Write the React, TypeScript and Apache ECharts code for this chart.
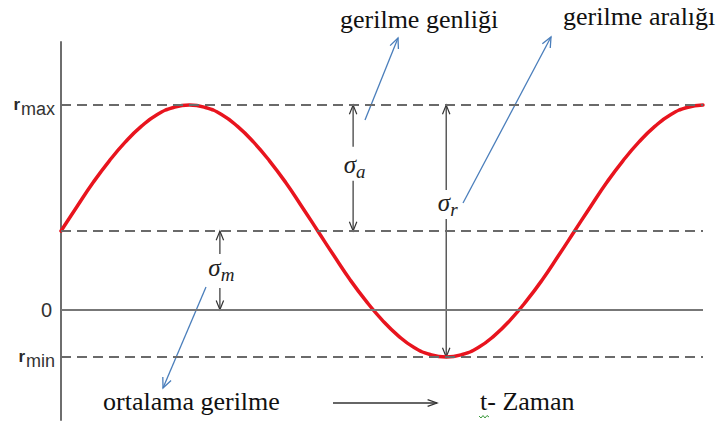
import React, { useEffect, useRef } from "react";
import * as echarts from "echarts";

// Time in sixteenths of a load cycle, and the stress
const timeSteps = [
  0, 0.5, 1, 1.5, 2, 2.5, 3, 3.5, 4, 4.5, 5, 5.5, 6, 6.5, 7, 7.5, 8, 8.5, 9, 9.5, 10,
  10.5, 11, 11.5, 12, 12.5, 13, 13.5, 14, 14.5, 15, 15.5, 16, 16.5, 17, 17.5, 18, 18.5, 19, 19.5, 20,
];
const stress = [
  1.25, 1.64, 2.02, 2.36, 2.66, 2.91, 3.1, 3.21, 3.25, 3.21, 3.1, 2.91, 2.66, 2.36, 2.02, 1.64,
  1.25, 0.86, 0.48, 0.14, -0.16, -0.41, -0.6, -0.71, -0.75, -0.71, -0.6, -0.41, -0.16, 0.14, 0.48, 0.86,
  1.25, 1.64, 2.02, 2.36, 2.66, 2.91, 3.1, 3.21, 3.25,
];

// Stress levels
const sigmaMax = 3.25;
const sigmaMean = 1.25;
const sigmaMin = -0.75;

// Axis range
const tMin = 0;
const tMax = 20;
const yMin = -1.75;
const yMax = 4.25;

// Level labels on the stress axis
const levelLabels = [
  { value: sigmaMax, main: "r", sub: "max" },
  { value: 0, main: "0", sub: "" },
  { value: sigmaMin, main: "r", sub: "min" },
];

// Dimension arrows: σa (amplitude), σr (range), σm (mean)
const dimensions = [
  { t: 9.1, hi: sigmaMax, lo: sigmaMean, labelAt: 2.3, sub: "a" },
  { t: 12, hi: sigmaMax, lo: sigmaMin, labelAt: 1.71, sub: "r" },
  { t: 4.95, hi: sigmaMean, lo: 0, labelAt: 0.663, sub: "m" },
];

// Annotation texts
const notes = ["gerilme genliği", "gerilme aralığı", "ortalama gerilme", "t- Zaman"];

const SERIF = "'Liberation Serif', 'Times New Roman', serif";
const SANS = "'Liberation Sans', Arial, sans-serif";
const BLUE = "#4a7ebb";
const DARK = "#333333";

type Pt = [number, number];

function head(tip: Pt, from: Pt, len: number, spread: number): Pt[] {
  const a = Math.atan2(from[1] - tip[1], from[0] - tip[0]);
  return [
    [tip[0] + len * Math.cos(a + spread), tip[1] + len * Math.sin(a + spread)],
    tip,
    [tip[0] + len * Math.cos(a - spread), tip[1] + len * Math.sin(a - spread)],
  ];
}

function arrow(from: Pt, to: Pt, color: string, width: number, len = 10, spread = 0.38) {
  return [
    {
      type: "line",
      silent: true,
      shape: { x1: from[0], y1: from[1], x2: to[0], y2: to[1] },
      style: { stroke: color, lineWidth: width },
    },
    {
      type: "polyline",
      silent: true,
      shape: { points: head(to, from, len, spread) },
      style: { stroke: color, lineWidth: width, fill: null },
    },
  ];
}

export default function App() {
  const ref = useRef<HTMLDivElement>(null);

  useEffect(() => {
    if (!ref.current) return;
    const chart = echarts.init(ref.current, null, { renderer: "svg" });

    chart.setOption({
      animation: false,
      backgroundColor: "#ffffff",
      grid: { left: 61, right: 18, top: 42, bottom: 3 },
      xAxis: {
        type: "value",
        min: tMin,
        max: tMax,
        axisLine: { show: false },
        axisTick: { show: false },
        axisLabel: { show: false },
        splitLine: { show: false },
      },
      yAxis: {
        type: "value",
        min: yMin,
        max: yMax,
        axisLine: { show: true, lineStyle: { color: "#6e6e6e", width: 2 } },
        axisTick: { show: false },
        axisLabel: { show: false },
        splitLine: { show: false },
      },
      series: [
        {
          type: "line",
          data: timeSteps.map((t, i) => [t, stress[i]]),
          smooth: 0.5,
          showSymbol: false,
          symbol: "none",
          z: 3,
          lineStyle: { color: "#e8141e", width: 3.5, cap: "round", join: "round" },
          markLine: {
            silent: true,
            symbol: "none",
            label: { show: false },
            lineStyle: { color: "#6a6a6a", width: 2, type: [10, 6] },
            data: [
              { yAxis: sigmaMax },
              { yAxis: sigmaMean },
              { yAxis: sigmaMin },
              { yAxis: 0, lineStyle: { type: "solid", color: "#777777", width: 2 } },
            ],
          },
        },
      ],
    });

    const P = (t: number, v: number): Pt => chart.convertToPixel({ gridIndex: 0 }, [t, v]) as Pt;
    const left = P(tMin, 0)[0];

    const g: any[] = [];

    // level labels left of the stress axis
    levelLabels.forEach((l) => {
      const y = P(tMin, l.value)[1];
      if (l.sub) {
        g.push({
          type: "text",
          silent: true,
          x: left - 6,
          y: y + 4,
          style: {
            text: `{r|${l.main}}{s|${l.sub}}`,
            align: "right",
            verticalAlign: "middle",
            rich: {
              r: { fontSize: 17, fontWeight: "bold", fontFamily: SANS, fill: "#2a2a2a", padding: [0, 1, 9, 0] },
              s: { fontSize: 18, fontFamily: SANS, fill: DARK },
            },
          },
        });
      } else {
        g.push({
          type: "text",
          silent: true,
          x: left - 9,
          y,
          style: {
            text: l.main,
            align: "right",
            verticalAlign: "middle",
            fontSize: 20,
            fontFamily: SANS,
            fill: DARK,
          },
        });
      }
    });

    // σ dimension arrows, split around their labels
    const gaps = [
      [18, 16],
      [12, 17],
      [14, 20],
    ];
    dimensions.forEach((d, i) => {
      const [x, yHi] = P(d.t, d.hi);
      const yLo = P(d.t, d.lo)[1];
      const yLab = P(d.t, d.labelAt)[1];
      g.push(...arrow([x, yLab - gaps[i][0]], [x, yHi], DARK, 1.2, 10, 0.38));
      g.push(...arrow([x, yLab + gaps[i][1]], [x, yLo], DARK, 1.2, 10, 0.38));
      g.push({
        type: "text",
        silent: true,
        x: x + 1.5,
        y: yLab,
        style: {
          text: `{s|σ}{b|${d.sub}}`,
          align: "center",
          verticalAlign: "middle",
          rich: {
            s: { fontSize: 25, fontStyle: "italic", fontFamily: SERIF, fill: "#222" },
            b: { fontSize: 19, fontStyle: "italic", fontFamily: SERIF, fill: "#222", padding: [14, 0, 0, 0] },
          },
        },
      });
    });

    // annotation texts
    const noteAt: Pt[] = [
      [340, 19],
      [563, 16],
      [103, 401],
      [480, 401],
    ];
    notes.forEach((n, i) => {
      g.push({
        type: "text",
        silent: true,
        x: noteAt[i][0],
        y: noteAt[i][1],
        style: {
          text: n,
          align: "left",
          verticalAlign: "middle",
          fontSize: 26,
          fontFamily: SERIF,
          fill: "#111",
        },
      });
    });

    // blue pointers from the notes
    g.push(...arrow([365, 120], [398, 38], BLUE, 1.3, 11, 0.42));
    g.push(...arrow([463, 203], [551, 37], BLUE, 1.3, 11, 0.42));
    g.push(...arrow([206, 287], [163, 388], BLUE, 1.3, 11, 0.42));

    // time direction arrow
    g.push(...arrow([333, 403], [437, 403], DARK, 1.3, 10, 0.35));

    // spell-check squiggle under the "t"
    g.push({
      type: "polyline",
      silent: true,
      shape: { points: [[479, 416], [481, 418], [483, 415.5], [485, 418], [487, 415.5], [489, 417]] },
      style: { stroke: "#3c9a3c", lineWidth: 1, fill: null },
    });

    chart.setOption({ graphic: g });

    return () => chart.dispose();
  }, []);

  return (
    <div
      ref={ref}
      style={{ position: "fixed", left: 0, top: 0, width: 721, height: 423, background: "#fff" }}
    />
  );
}
